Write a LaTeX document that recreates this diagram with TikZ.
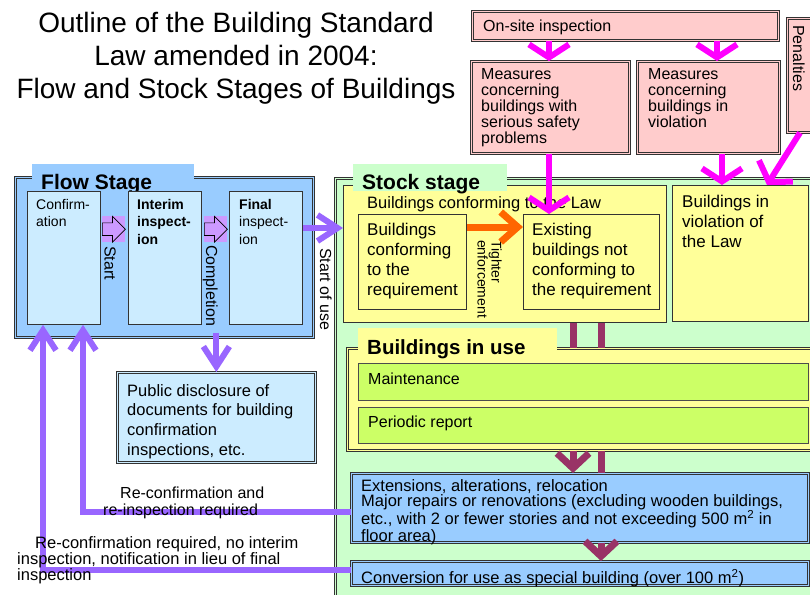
\documentclass[tikz,border=0pt]{standalone}
\usepackage{fontspec}
\setmainfont{Liberation Sans}
\usetikzlibrary{arrows.meta,shapes.arrows}
\definecolor{FlowBlue}{HTML}{99CCFF}
\definecolor{PaleBlue}{HTML}{CCECFF}
\definecolor{StockGreen}{HTML}{CCFFCC}
\definecolor{LawYellow}{HTML}{FFFF99}
\definecolor{UseGreen}{HTML}{CCFF66}
\definecolor{CheckPink}{HTML}{FFCCCC}
\definecolor{Lilac}{HTML}{CC99FF}
\definecolor{BackViolet}{HTML}{9966FF}
\definecolor{WineRed}{HTML}{993366}
\definecolor{Tighten}{HTML}{FF6600}
\definecolor{CheckMagenta}{HTML}{FF00FF}
\newcommand\fsz[2]{\fontsize{#1}{#2}\selectfont}
\tikzset{
  box/.style={draw=black!80,line width=0.8pt,inner sep=0,anchor=north west},
  dbl/.style={box,fill=#1,double=#1,double distance=1.4pt,line width=0.7pt},
  tab/.style={inner sep=0,anchor=north west,fill=#1},
  txt/.style={inner sep=0,anchor=north west,align=left},
  rtxt/.style={inner sep=0,anchor=north west,align=left,rotate=-90},
  pinkarrow/.style={draw=CheckMagenta,line width=6pt,-{Straight Barb[length=13pt,width=40pt]}},
  backarrow/.style={draw=BackViolet,line width=6pt,-{Straight Barb[length=20pt,width=26pt]}},
  wineline/.style={draw=WineRed,line width=7pt},
  winearrow/.style={wineline,-{Straight Barb[length=15pt,width=32pt]}},
  blockarrow/.style={single arrow,draw=black,fill=Lilac,line width=0.7pt,
    minimum height=23pt,text height=12pt,text depth=0pt,text width=0pt,
    single arrow head extend=6.5pt,inner sep=0,anchor=west}
}
\begin{document}
\begin{tikzpicture}[x=1pt,y=-1pt]
  \useasboundingbox (0,0) rectangle (810,594);
  \clip (0,0) rectangle (810,594);
  \fill[white] (0,0) rectangle (810,594);
  % title
  \node[inner sep=0,anchor=north,align=center,font=\fsz{28}{33}] (title) at (236,12)
    {Outline of the Building Standard\\Law amended in 2004:\\Flow and Stock Stages of Buildings};
  % on-site inspection and measures
  \node[dbl=CheckPink,minimum width=306pt,minimum height=29pt] (onsite) at (472,11) {};
  \node[txt,font=\fsz{16}{16}] (onsitetxt) at (483,20) {On-site inspection};
  \node[dbl=CheckPink,minimum width=30pt,minimum height=114pt] (penal) at (787,18) {};
  \node[rtxt,font=\fsz{16}{16}] (penaltxt) at (805,25) {Penalties};
  \node[dbl=CheckPink,minimum width=158pt,minimum height=92pt] (meas1) at (471,61) {};
  \node[txt,font=\fsz{16}{16}] (meas1txt) at (481,68)
    {Measures\\concerning\\buildings with\\serious safety\\problems};
  \node[dbl=CheckPink,minimum width=142pt,minimum height=92pt] (meas2) at (637,61) {};
  \node[txt,font=\fsz{16}{16}] (meas2txt) at (648,68)
    {Measures\\concerning\\buildings in\\violation};
  % flow stage
  \node[dbl=FlowBlue,minimum width=298pt,minimum height=160pt] (flow) at (15,177) {};
  \node[tab=FlowBlue,minimum width=162pt,minimum height=28pt] (flowtab) at (32,164) {};
  \node[txt,font=\bfseries\fsz{21}{21}] (flowtxt) at (41,174) {Flow Stage};
  \node[box,fill=PaleBlue,minimum width=73pt,minimum height=133pt] (conf) at (27,191) {};
  \node[box,fill=PaleBlue,minimum width=73pt,minimum height=133pt] (interim) at (128,191) {};
  \node[box,fill=PaleBlue,minimum width=73pt,minimum height=133pt] (final) at (229,191) {};
  \node[txt,font=\fsz{14}{17}] (conftxt) at (36,199) {Confirm-\\ation};
  \node[txt,font=\bfseries\fsz{14}{17.5}] (interimtxt) at (137,199) {Interim\\inspect-\\ion};
  \node[txt,font=\fsz{14}{17.5}] (finaltxt) at (239,199) {\textbf{Final}\\inspect-\\ion};
  \foreach \bx/\nm in {102/startarr,204/complarr}{
    \node[tab=Lilac,minimum width=23pt,minimum height=26pt] (\nm bg) at (\bx,216) {};
    \node[blockarrow] (\nm) at (\nm bg.west) {};
  }
  \node[rtxt,font=\fsz{16}{16}] (starttxt) at (116,246) {Start};
  \node[rtxt,font=\fsz{16}{16}] (compltxt) at (218,245) {Completion};
  \node[rtxt,font=\fsz{16}{16}] (usetxt) at (332,248) {Start of use};
  % public disclosure
  \node[dbl=PaleBlue,minimum width=198pt,minimum height=90pt] (discl) at (117,372) {};
  \node[txt,font=\fsz{16.5}{19.7}] (discltxt) at (127,384)
    {Public disclosure of\\documents for building\\confirmation\\inspections, etc.};
  % stock stage
  \node[dbl=StockGreen,minimum width=480pt,minimum height=430pt] (stock) at (335,178) {};
  \node[box,fill=LawYellow,minimum width=323pt,minimum height=137pt] (law) at (343,185) {};
  \node[box,fill=LawYellow,minimum width=136pt,minimum height=136pt] (viol) at (672,185) {};
  \node[tab=StockGreen,minimum width=154pt,minimum height=27pt] (stocktab) at (353,164) {};
  \node[txt,font=\bfseries\fsz{21}{21}] (stocktxt) at (362,174) {Stock stage};
  \node[txt,font=\fsz{16.5}{16.5}] (lawtxt) at (367,196) {Buildings conforming to the Law};
  \node[box,fill=LawYellow,minimum width=108pt,minimum height=95pt] (confreq) at (358,214) {};
  \node[box,fill=LawYellow,minimum width=136pt,minimum height=95pt] (existing) at (523,214) {};
  \node[txt,font=\fsz{17}{20}] (confreqtxt) at (367,223)
    {Buildings\\conforming\\to the\\requirement};
  \node[txt,font=\fsz{17}{20}] (existingtxt) at (532,223)
    {Existing\\buildings not\\conforming to\\the requirement};
  \node[txt,font=\fsz{17}{20}] (violtxt) at (682,195) {Buildings in\\violation of\\the Law};
  \node[rtxt,font=\fsz{14}{14}] (tighttxt) at (502,240) {Tighter\\enforcement};
  % buildings in use
  \node[dbl=LawYellow,minimum width=470pt,minimum height=102pt] (use) at (347,348) {};
  \node[tab=LawYellow,minimum width=199pt,minimum height=32pt] (usetab) at (358,328) {};
  \node[txt,font=\bfseries\fsz{20.5}{20.5}] (usetabtxt) at (367,339) {Buildings in use};
  \node[box,draw=black!70,line width=1.3pt,fill=UseGreen,minimum width=450pt,minimum height=37pt] (maint) at (358,363) {};
  \node[box,draw=black!70,line width=1.3pt,fill=UseGreen,minimum width=450pt,minimum height=36pt] (period) at (358,407) {};
  \node[txt,font=\fsz{16}{16}] (mainttxt) at (368,373) {Maintenance};
  \node[txt,font=\fsz{16}{16}] (periodtxt) at (368,416) {Periodic report};
  % alterations and conversion
  \node[dbl=FlowBlue,minimum width=457pt,minimum height=69pt] (ext) at (351,473) {};
  \node[txt,font=\fsz{16.5}{15}] (exttxt) at (361,479)
    {Extensions, alterations, relocation\\
     Major repairs or renovations (excluding wooden buildings,\\
     etc., with 2 or fewer stories and not exceeding 500 m\textsuperscript{2} in\\
     floor area)};
  \node[dbl=FlowBlue,minimum width=457pt,minimum height=24pt] (conv) at (351,561) {};
  \node[txt,font=\fsz{16.5}{16}] (convtxt) at (361,569)
    {Conversion for use as special building (over 100 m\textsuperscript{2})};
  % connectors
  \draw[pinkarrow] (onsite.south -| 549,0) -- (meas1.north -| 549,0);
  \draw[pinkarrow] (onsite.south -| 717,0) -- (meas2.north -| 717,0);
  \draw[pinkarrow] (meas1.south -| 549,0) -- (existing.north -| 549,0);
  \draw[pinkarrow] (meas2.south -| 722,0) -- (viol.north -| 722,0);
  \draw[pinkarrow] (penal.south -| 800,0) -- (viol.north -| 767,0);
  \draw[backarrow] (final.east |- 0,228) -- (law.west |- 0,228);
  \draw[backarrow] (flow.south -| discl.north) ++(0,-5) -- (discl.north);
  \draw[Tighten,line width=7pt,-{Straight Barb[length=17pt,width=30pt]}]
    (confreq.east |- 0,227) -- (existing.west |- 0,227);
  \foreach \wx in {573,601}
    \draw[wineline] (law.south -| \wx,0) -- (use.north -| \wx,0);
  \draw[winearrow] (use.south -| 573,0) -- (ext.north -| 573,0);
  \draw[wineline] (use.south -| 601,0) -- (ext.north -| 601,0);
  \draw[winearrow] (ext.south -| 601,0) -- (conv.north -| 601,0);
  \coordinate (bend1) at (83,512);
  \coordinate (bend2) at (43,570);
  \draw[backarrow] (ext.west |- bend1) -- (bend1) -- (conf.south -| bend1);
  \draw[backarrow] (conv.west |- bend2) -- (bend2) -- (conf.south -| bend2);
  \node[txt,font=\fsz{16}{17}] (reinsp) at (103,487)
    {\hspace*{17pt}Re-confirmation and\\re-inspection required};
  \node[txt,font=\fsz{16.5}{16}] (renote) at (17,536)
    {\hspace*{18pt}Re-confirmation required, no interim\\
     inspection, notification in lieu of final\\inspection};
\end{tikzpicture}
\end{document}
